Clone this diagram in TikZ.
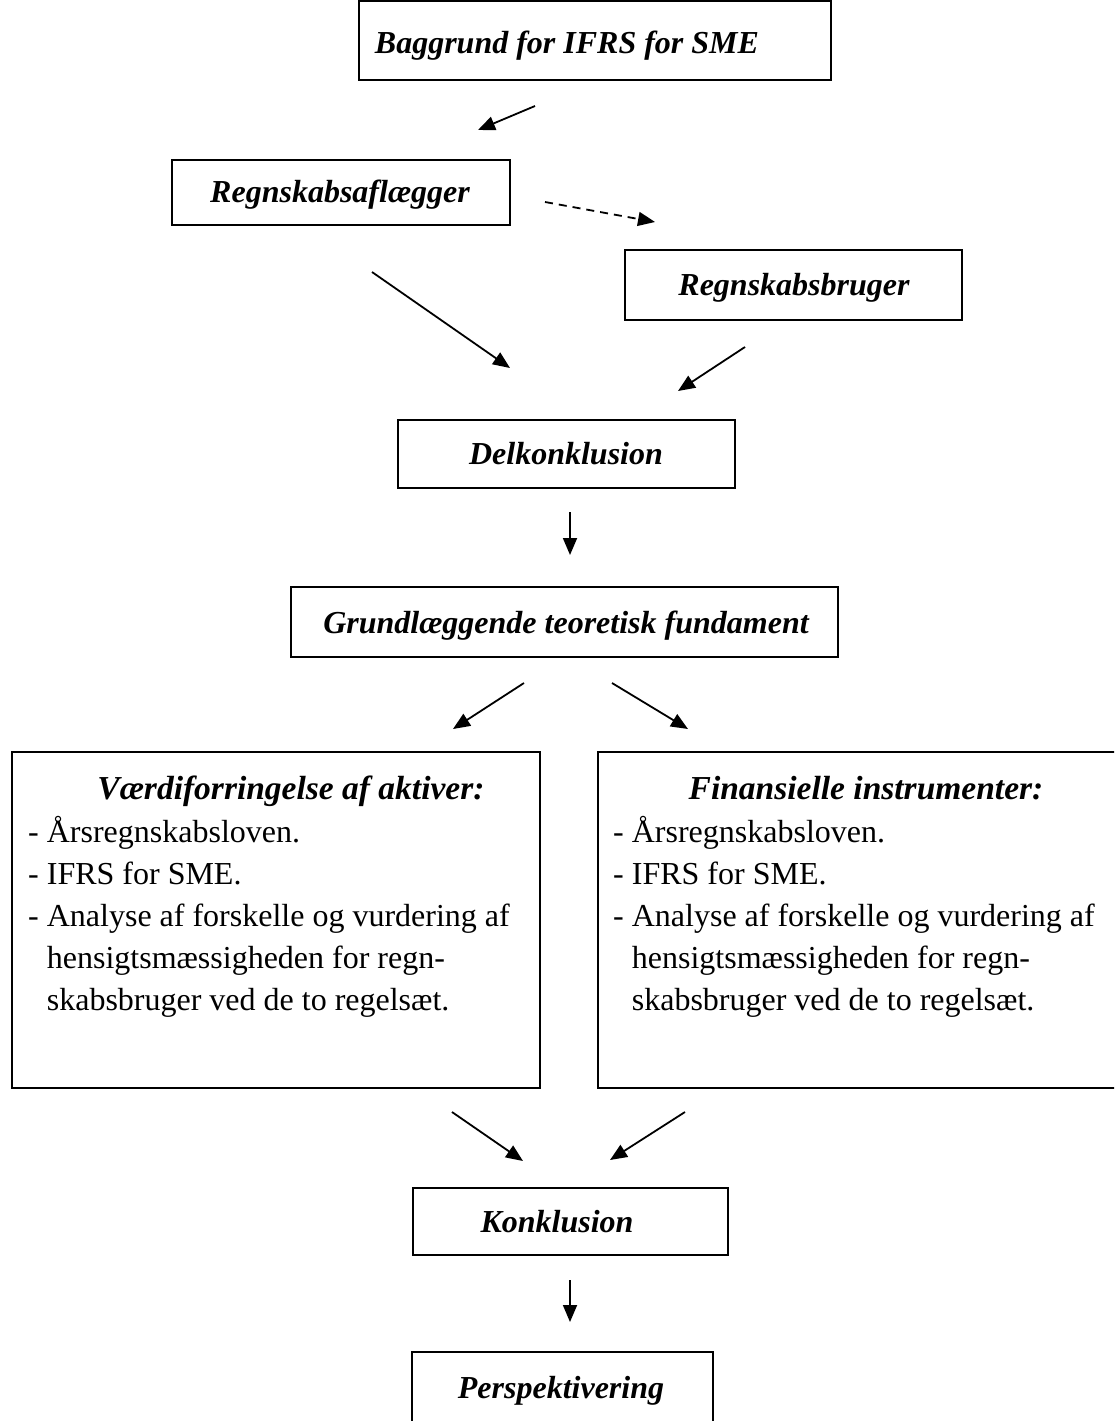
\documentclass[tikz,border=0pt]{standalone}
\usepackage{fontspec}
\setmainfont{Liberation Serif}
\usetikzlibrary{arrows.meta}
\begin{document}
\begin{tikzpicture}[x=1pt,y=-1pt,
  box/.style={draw,line width=1.7pt},
  ttl/.style={font=\fontsize{32}{38}\selectfont\bfseries\itshape,anchor=base,inner sep=0pt},
  bttl/.style={ttl,font=\fontsize{33.5}{38}\selectfont\bfseries\itshape},
  body/.style={font=\fontsize{32}{38}\selectfont,anchor=base west,inner sep=0pt},
  arr/.style={line width=1.8pt,-{Triangle[length=17pt,width=14pt]}},
  darr/.style={arr,dash pattern=on 8pt off 6pt}]
\useasboundingbox (0,0) rectangle (1114,1421);
\clip (0,0) rectangle (1114,1421);
% boxes
\draw[box] (359,1) rectangle (831,80);
\node[ttl] (t1) at (567,53) {Baggrund for IFRS for SME};
\draw[box] (172,160) rectangle (510,225);
\node[ttl] (t2) at (340,202) {Regnskabsaflægger};
\draw[box] (625,250) rectangle (962,320);
\node[ttl] (t3) at (794,295) {Regnskabsbruger};
\draw[box] (398,420) rectangle (735,488);
\node[ttl] (t4) at (566,464) {Delkonklusion};
\draw[box] (291,587) rectangle (838,657);
\node[ttl] (t5) at (566,633) {Grundlæggende teoretisk fundament};
% left box
\draw[box] (12,752) rectangle (540,1088);
\node[bttl] (t6) at (291,799) {Værdiforringelse af aktiver:};
\node[body] (l61) at (28,842) {- Årsregnskabsloven.};
\node[body] (l62) at (28,884) {- IFRS for SME.};
\node[body] (l63) at (28,926) {- Analyse af forskelle og vurdering af};
\node[body] (l64) at (28,968) {\hphantom{- }hensigtsmæssigheden for regn-};
\node[body] (l65) at (28,1010) {\hphantom{- }skabsbruger ved de to regelsæt.};
% right box
\draw[box] (598,752) rectangle (1130,1088);
\node[bttl] (t7) at (866,799) {Finansielle instrumenter:};
\node[body] (l71) at (613,842) {- Årsregnskabsloven.};
\node[body] (l72) at (613,884) {- IFRS for SME.};
\node[body] (l73) at (613,926) {- Analyse af forskelle og vurdering af};
\node[body] (l74) at (613,968) {\hphantom{- }hensigtsmæssigheden for regn-};
\node[body] (l75) at (613,1010) {\hphantom{- }skabsbruger ved de to regelsæt.};
\draw[box] (413,1188) rectangle (728,1255);
\node[ttl] (t8) at (557,1232) {Konklusion};
\draw[box] (412,1352) rectangle (713,1440);
\node[ttl] (t9) at (561,1398) {Perspektivering};
% arrow coordinates
\coordinate (a1s) at (535,106); \coordinate (a1e) at (478,130);
\coordinate (a2s) at (545,202); \coordinate (a2e) at (655,222);
\coordinate (a3s) at (372,272); \coordinate (a3e) at (510,368);
\coordinate (a4s) at (745,347); \coordinate (a4e) at (678,391);
\coordinate (a5s) at (570,512); \coordinate (a5e) at (570,555);
\coordinate (a6s) at (524,683); \coordinate (a6e) at (453,729);
\coordinate (a7s) at (612,683); \coordinate (a7e) at (688,729);
\coordinate (a8s) at (452,1112); \coordinate (a8e) at (523,1161);
\coordinate (a9s) at (685,1112); \coordinate (a9e) at (610,1160);
\coordinate (a10s) at (570,1280); \coordinate (a10e) at (570,1322);
\draw[arr] (a1s) -- (a1e);
\draw[darr] (a2s) -- (a2e);
\draw[arr] (a3s) -- (a3e);
\draw[arr] (a4s) -- (a4e);
\draw[arr] (a5s) -- (a5e);
\draw[arr] (a6s) -- (a6e);
\draw[arr] (a7s) -- (a7e);
\draw[arr] (a8s) -- (a8e);
\draw[arr] (a9s) -- (a9e);
\draw[arr] (a10s) -- (a10e);
\end{tikzpicture}
\end{document}
